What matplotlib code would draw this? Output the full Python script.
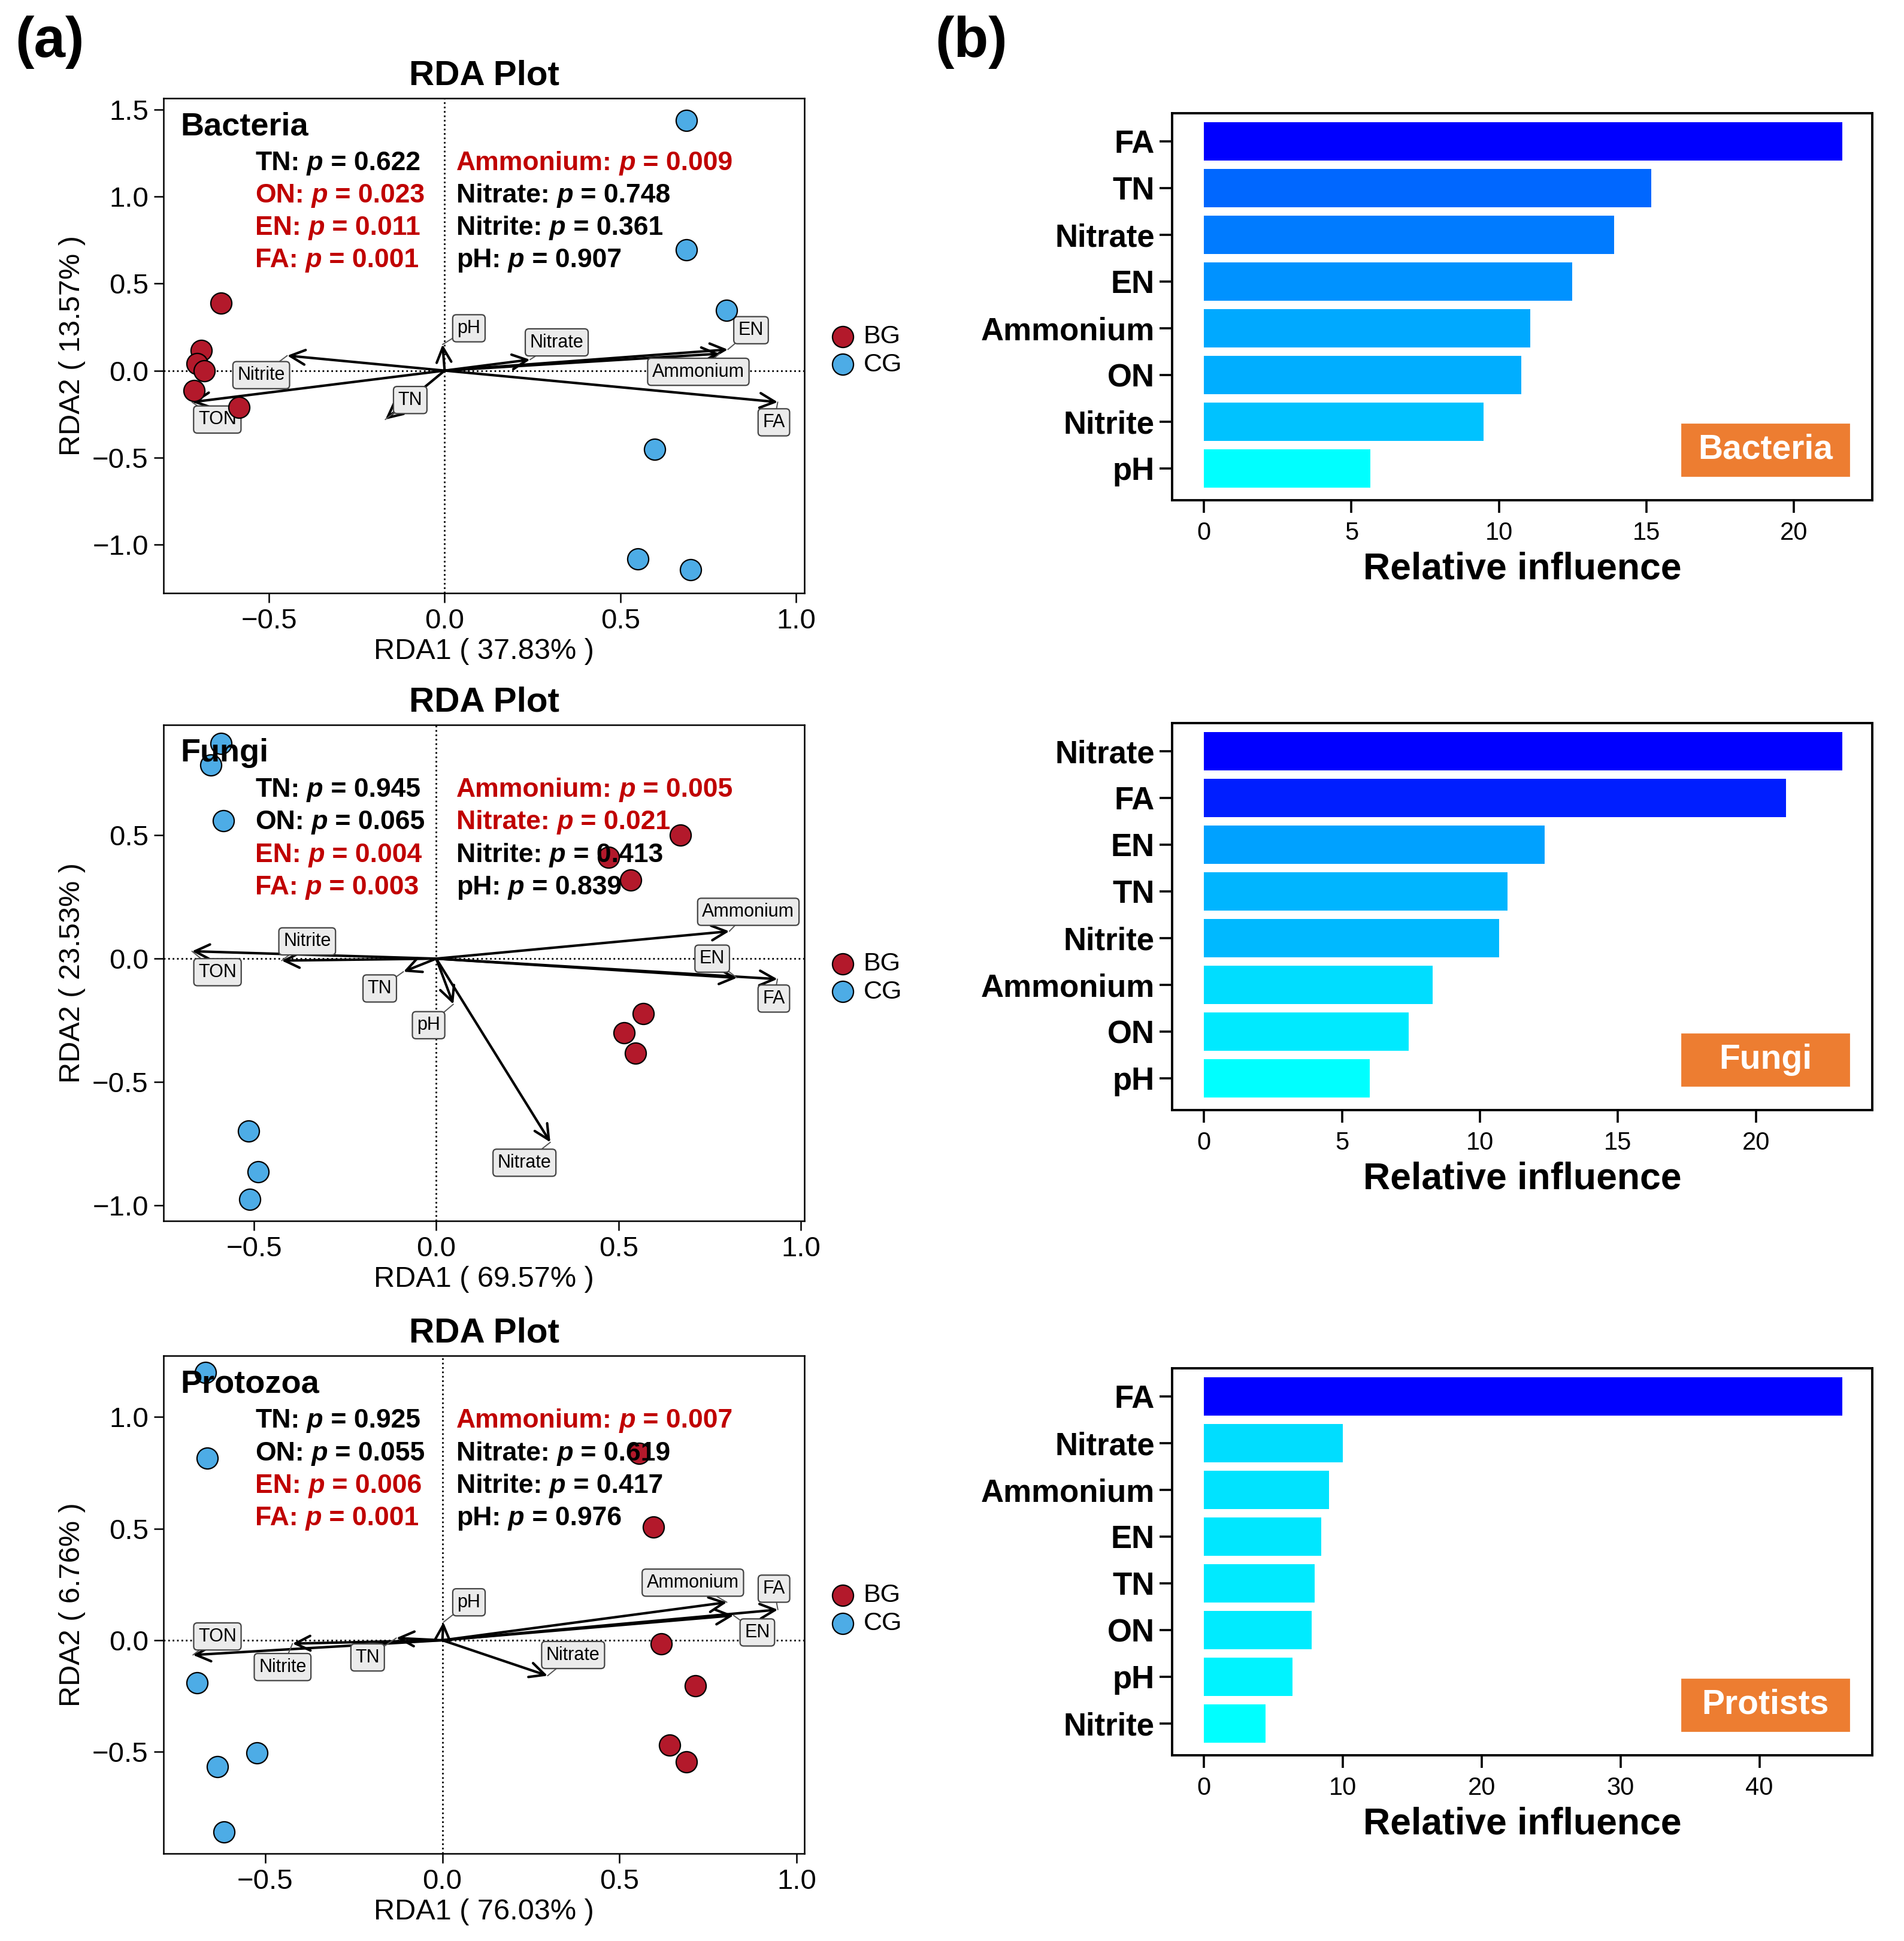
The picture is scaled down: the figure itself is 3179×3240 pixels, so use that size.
import matplotlib
matplotlib.use("Agg")
import matplotlib.pyplot as plt
import matplotlib.patches as mpatches
from matplotlib.colors import LinearSegmentedColormap, Normalize
from matplotlib.offsetbox import TextArea, HPacker, AnnotationBbox
from matplotlib.ticker import FuncFormatter
import numpy as np

plt.rcParams['font.family'] = ['Liberation Sans', 'DejaVu Sans']

# ---- RDA data ----
bac_bg_x = [-0.637, -0.692, -0.705, -0.685, -0.713, -0.585]
bac_bg_y = [0.387, 0.114, 0.039, -0.002, -0.116, -0.211]
bac_cg_x = [0.688, 0.688, 0.803, 0.598, 0.550, 0.700]
bac_cg_y = [1.436, 0.694, 0.346, -0.452, -1.081, -1.143]
bac_env = ["pH", "Nitrate", "EN", "Ammonium", "FA", "Nitrite", "TON", "TN"]
bac_arrow_x = [-0.006, 0.243, 0.806, 0.782, 0.948, -0.448, -0.719, -0.169]
bac_arrow_y = [0.150, 0.063, 0.121, 0.097, -0.181, 0.086, -0.181, -0.281]
bac_label_x = [0.069, 0.319, 0.872, 0.722, 0.937, -0.522, -0.647, -0.098]
bac_label_y = [0.243, 0.162, 0.232, -0.007, -0.297, -0.026, -0.281, -0.169]

fun_bg_x = [0.670, 0.473, 0.533, 0.568, 0.515, 0.546]
fun_bg_y = [0.500, 0.411, 0.318, -0.224, -0.301, -0.384]
fun_cg_x = [-0.591, -0.619, -0.584, -0.515, -0.489, -0.511]
fun_cg_y = [0.873, 0.786, 0.560, -0.700, -0.864, -0.977]
fun_env = ["Ammonium", "EN", "FA", "Nitrate", "pH", "TN", "Nitrite", "TON"]
fun_arrow_x = [0.804, 0.825, 0.936, 0.313, 0.047, -0.090, -0.424, -0.670]
fun_arrow_y = [0.111, -0.078, -0.083, -0.745, -0.185, -0.053, -0.008, 0.030]
fun_label_x = [0.856, 0.757, 0.926, 0.242, -0.021, -0.155, -0.354, -0.600]
fun_label_y = [0.190, 0.000, -0.162, -0.828, -0.270, -0.121, 0.070, -0.055]

pro_bg_x = [0.556, 0.595, 0.618, 0.714, 0.642, 0.689]
pro_bg_y = [0.838, 0.506, -0.015, -0.205, -0.470, -0.544]
pro_cg_x = [-0.668, -0.664, -0.692, -0.524, -0.635, -0.617]
pro_cg_y = [1.199, 0.815, -0.190, -0.504, -0.565, -0.860]
pro_env = ["pH", "Ammonium", "FA", "EN", "Nitrate", "TN", "Nitrite", "TON"]
pro_arrow_x = [0.003, 0.803, 0.947, 0.822, 0.297, -0.130, -0.423, -0.704]
pro_arrow_y = [0.081, 0.170, 0.137, 0.111, -0.159, 0.010, -0.015, -0.066]
pro_label_x = [0.075, 0.707, 0.936, 0.889, 0.369, -0.211, -0.451, -0.635]
pro_label_y = [0.170, 0.258, 0.231, 0.035, -0.066, -0.077, -0.120, 0.017]

# envfit p values
stat_names = ["TN", "ON", "EN", "FA", "Ammonium", "Nitrate", "Nitrite", "pH"]
bac_p = [0.622, 0.023, 0.011, 0.001, 0.009, 0.748, 0.361, 0.907]
fun_p = [0.945, 0.065, 0.004, 0.003, 0.005, 0.021, 0.413, 0.839]
pro_p = [0.925, 0.055, 0.006, 0.001, 0.007, 0.619, 0.417, 0.976]

# ---- relative influence (boosted trees) ----
bac_bar_names = ["FA", "TN", "Nitrate", "EN", "Ammonium", "ON", "Nitrite", "pH"]
bac_bar_vals = [21.64, 15.17, 13.90, 12.49, 11.07, 10.75, 9.48, 5.65]
fun_bar_names = ["Nitrate", "FA", "EN", "TN", "Nitrite", "Ammonium", "ON", "pH"]
fun_bar_vals = [23.13, 21.09, 12.34, 11.01, 10.70, 8.29, 7.42, 6.00]
pro_bar_names = ["FA", "Nitrate", "Ammonium", "EN", "TN", "ON", "pH", "Nitrite"]
pro_bar_vals = [45.96, 10.0, 9.0, 8.43, 7.96, 7.74, 6.39, 4.43]

BG_COL = "#B3192B"
CG_COL = "#4DACE6"
RED = "#C00000"
ORANGE = "#ED7D31"
cmap = LinearSegmentedColormap.from_list("bc", ["#00FFFF", "#0000FF"])
minus_fmt = FuncFormatter(lambda v, _: ("%.1f" % v).replace("-", "\u2212"))

fig = plt.figure(figsize=(15.895, 16.2), dpi=200)


def p_line(ax, x, y, name, p):
    col = RED if p < 0.05 else "black"
    tp = dict(color=col, fontweight="bold", fontsize=16)
    ti = dict(color=col, fontweight="bold", fontstyle="italic", fontsize=16)
    box = HPacker(children=[TextArea(name + ":", textprops=tp),
                            TextArea(" p", textprops=ti),
                            TextArea(" = %.3f" % p, textprops=tp)],
                  pad=0, sep=0, align="baseline")
    ab = AnnotationBbox(box, (x, y), xycoords="axes fraction", box_alignment=(0, 0.5),
                        frameon=False, pad=0)
    ab.set_zorder(6)
    ax.add_artist(ab)


def rda_panel(rect, bgx, bgy, cgx, cgy, env, arx, ary, lbx, lby, pvals,
              group, xlab, ylab, xlim, ylim, yticks):
    ax = fig.add_axes(rect)
    ax.axhline(0, color="black", ls=":", lw=1.0, zorder=1)
    ax.axvline(0, color="black", ls=":", lw=1.0, zorder=1)
    for n, x, y, lx, ly in zip(env, arx, ary, lbx, lby):
        ax.annotate("", xy=(x, y), xytext=(0, 0),
                    arrowprops=dict(arrowstyle="->,head_length=0.45,head_width=0.22",
                                    lw=1.5, color="black", shrinkA=0, shrinkB=0,
                                    mutation_scale=20), zorder=2)
        ax.annotate(n, xy=(x, y), xytext=(lx, ly), ha="center", va="center",
                    fontsize=11, zorder=3,
                    bbox=dict(boxstyle="round,pad=0.25,rounding_size=0.2",
                              fc="#EBEBEB", ec="#444444", lw=0.8),
                    arrowprops=dict(arrowstyle="-", color="#555555", lw=0.7,
                                    shrinkA=0, shrinkB=0))
    ax.scatter(bgx, bgy, s=160, c=BG_COL, edgecolors="black", linewidths=0.8,
               zorder=4, label="BG")
    ax.scatter(cgx, cgy, s=160, c=CG_COL, edgecolors="black", linewidths=0.8,
               zorder=4, label="CG")
    ax.text(0.026, 0.943, group, transform=ax.transAxes, fontsize=19.5,
            fontweight="bold", va="center", ha="left", zorder=6)
    rows = [0.869, 0.8035, 0.738, 0.6725]
    for i in range(4):
        p_line(ax, 0.143, rows[i], stat_names[i], pvals[i])
        p_line(ax, 0.457, rows[i], stat_names[i + 4], pvals[i + 4])
    ax.set_xlim(*xlim)
    ax.set_ylim(*ylim)
    ax.set_xticks([-0.5, 0.0, 0.5, 1.0])
    ax.set_yticks(yticks)
    ax.xaxis.set_major_formatter(minus_fmt)
    ax.yaxis.set_major_formatter(minus_fmt)
    ax.tick_params(labelsize=17, length=5.6, width=0.9, direction="out")
    for s in ax.spines.values():
        s.set_linewidth(0.9)
    ax.set_xlabel(xlab, fontsize=17.5, labelpad=2)
    ax.set_ylabel(ylab, fontsize=17.5, labelpad=4)
    ax.set_title("RDA Plot", fontsize=21, fontweight="bold", pad=8)
    ax.legend(loc="center left", bbox_to_anchor=(1.04, 0.49), frameon=False,
              handlelength=1.0, handletextpad=0.3, borderaxespad=0, borderpad=0,
              labelspacing=0.15, fontsize=15.5, scatterpoints=1)
    return ax


def bar_panel(rect, names, vals, ticks, tag):
    ax = fig.add_axes(rect)
    pos = np.arange(len(names))
    norm = Normalize(min(vals), max(vals))
    ax.barh(pos, vals, height=0.82, color=cmap(norm(np.array(vals))), zorder=2)
    ax.set_yticks(pos)
    ax.set_yticklabels(names, fontsize=19, fontweight="bold")
    ax.set_ylim(len(names) - 1 + 0.68, -0.6)
    ax.set_xlim(-0.05 * max(vals), 1.047 * max(vals))
    ax.set_xticks(ticks)
    ax.tick_params(axis="x", labelsize=15, length=7.5, width=1.3, pad=5)
    ax.tick_params(axis="y", length=7.5, width=1.3, pad=3)
    for s in ax.spines.values():
        s.set_linewidth(1.4)
    ax.set_xlabel("Relative influence", fontsize=22.5, fontweight="bold", labelpad=4)
    ax.add_patch(mpatches.Rectangle((0.728, 0.064), 0.239, 0.132, transform=ax.transAxes,
                                    color=ORANGE, zorder=3))
    ax.text(0.8475, 0.130, tag, transform=ax.transAxes, ha="center", va="center",
            color="white", fontsize=20.5, fontweight="bold", zorder=4)
    return ax


rda_panel([0.0859, 0.6944, 0.3366, 0.2550], bac_bg_x, bac_bg_y, bac_cg_x, bac_cg_y,
          bac_env, bac_arrow_x, bac_arrow_y, bac_label_x, bac_label_y, bac_p,
          "Bacteria", "RDA1 ( 37.83% )", "RDA2 ( 13.57% )",
          (-0.80, 1.024), (-1.278, 1.564), [-1.0, -0.5, 0.0, 0.5, 1.0, 1.5])
rda_panel([0.0859, 0.3710, 0.3366, 0.2555], fun_bg_x, fun_bg_y, fun_cg_x, fun_cg_y,
          fun_env, fun_arrow_x, fun_arrow_y, fun_label_x, fun_label_y, fun_p,
          "Fungi", "RDA1 ( 69.57% )", "RDA2 ( 23.53% )",
          (-0.748, 1.010), (-1.064, 0.948), [-1.0, -0.5, 0.0, 0.5])
rda_panel([0.0859, 0.0451, 0.3366, 0.2565], pro_bg_x, pro_bg_y, pro_cg_x, pro_cg_y,
          pro_env, pro_arrow_x, pro_arrow_y, pro_label_x, pro_label_y, pro_p,
          "Protozoa", "RDA1 ( 76.03% )", "RDA2 ( 6.76% )",
          (-0.787, 1.022), (-0.955, 1.275), [-0.5, 0.0, 0.5, 1.0])

bar_panel([0.6156, 0.7423, 0.3677, 0.1994], bac_bar_names, bac_bar_vals, [0, 5, 10, 15, 20], "Bacteria")
bar_panel([0.6156, 0.4281, 0.3677, 0.1994], fun_bar_names, fun_bar_vals, [0, 5, 10, 15, 20], "Fungi")
bar_panel([0.6156, 0.0957, 0.3677, 0.1994], pro_bar_names, pro_bar_vals, [0, 10, 20, 30, 40], "Protists")

fig.text(0.008, 0.992, "(a)", fontsize=34, fontweight="bold", ha="left", va="top")
fig.text(0.491, 0.992, "(b)", fontsize=34, fontweight="bold", ha="left", va="top")

fig.savefig("out.png", dpi=200)
